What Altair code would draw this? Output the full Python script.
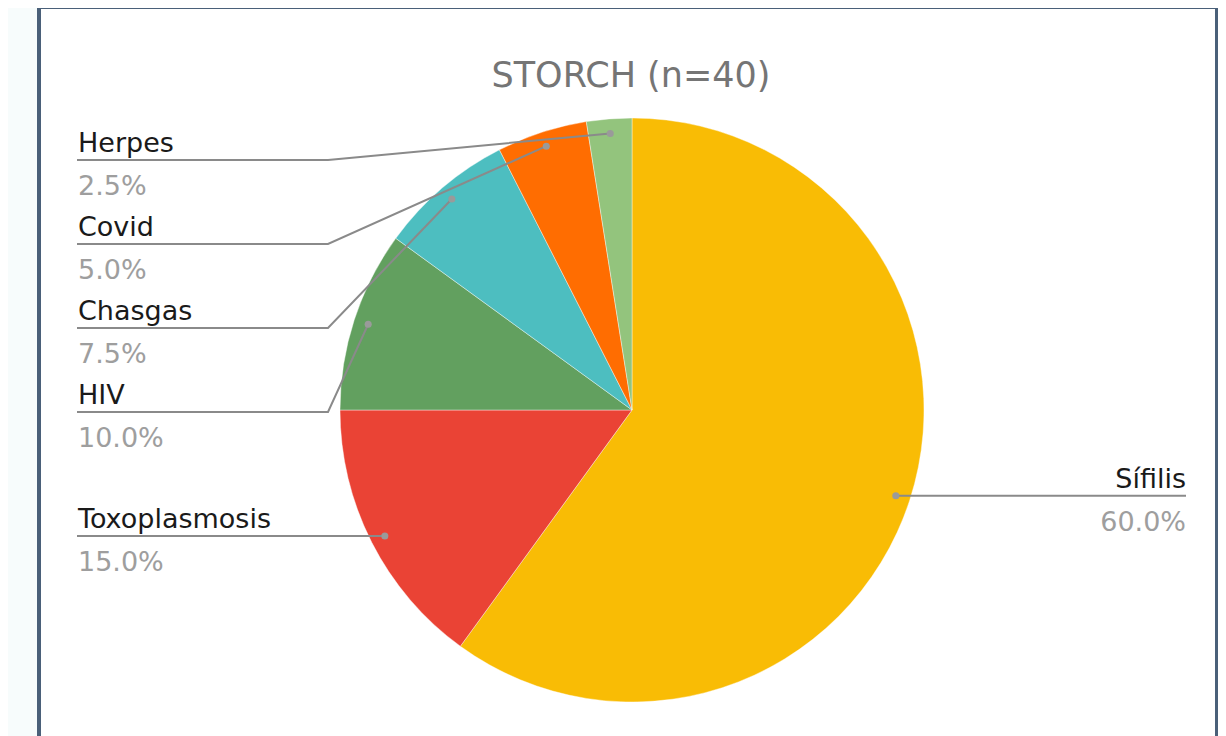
import math
import altair as alt
import pandas as pd

# ---- data ----
categories = ["Sífilis", "Toxoplasmosis", "HIV", "Chasgas", "Covid", "Herpes"]
counts = [24, 6, 4, 3, 2, 1]
colors = ["#F9BC05", "#EA4335", "#62A05F", "#4DBEC0", "#FF6D01", "#93C47D"]
title_text = "STORCH (n=40)"

# ---- layout (pixels in chart space) ----
W, H = 1210, 728
CX, CY, R = 624, 402, 292
DOT_R = 0.95 * R
LEFT_X = 69
ELBOW_X = 320
RIGHT_X = 1178
left_slots = {"Herpes": 152, "Covid": 236, "Chasgas": 320, "HIV": 404}
FONT = "DejaVu Sans"

total = sum(counts)
pie = pd.DataFrame({"cat": categories, "count": counts, "idx": list(range(len(categories)))})

line_rows, dot_rows, label_rows = [], [], []
cum = 0
for cat, c in zip(categories, counts):
    mid = (cum + c / 2) / total * 2 * math.pi
    cum += c
    dx = CX + DOT_R * math.sin(mid)
    dy = CY - DOT_R * math.cos(mid)
    pct = f"{100 * c / total:.1f}%"
    if math.sin(mid) >= 0:
        uy = dy
        pts = [(dx, dy), (RIGHT_X, uy)]
        side, tx = "right", RIGHT_X
    else:
        if cat in left_slots:
            uy = left_slots[cat]
            pts = [(dx, dy), (ELBOW_X, uy), (LEFT_X, uy)]
        else:
            uy = dy
            pts = [(dx, dy), (LEFT_X, uy)]
        side, tx = "left", LEFT_X + 1
    for k, (px, py) in enumerate(pts):
        line_rows.append({"cat": cat, "k": k, "lx": px, "ly": py})
    dot_rows.append({"cat": cat, "lx": dx, "ly": dy})
    label_rows.append({"cat": cat, "pct": pct, "side": side, "tx": tx,
                       "ny": uy - 8, "py": uy + 35})

lines = pd.DataFrame(line_rows)
dots = pd.DataFrame(dot_rows)
labels = pd.DataFrame(label_rows)

xs = alt.Scale(domain=[0, W], nice=False, zero=False)
ys = alt.Scale(domain=[0, H], nice=False, zero=False, reverse=True)

frame = alt.Chart(pd.DataFrame({"a": [0]})).mark_rect(
    fill="white", stroke="#4A6079", strokeWidth=4
).encode(x=alt.value(31), x2=alt.value(1209), y=alt.value(-1), y2=alt.value(760))

arcs = alt.Chart(pie).mark_arc(outerRadius=R, stroke="white", strokeWidth=0.4).encode(
    theta=alt.Theta("count:Q", stack=True),
    color=alt.Color("cat:N", scale=alt.Scale(domain=categories, range=colors), legend=None),
    order=alt.Order("idx:Q"),
    x=alt.value(CX),
    y=alt.value(CY),
)

leader = alt.Chart(lines).mark_line(color="#8a8a8a", strokeWidth=2).encode(
    x=alt.X("lx:Q", scale=xs, axis=None),
    y=alt.Y("ly:Q", scale=ys, axis=None),
    detail="cat:N",
    order=alt.Order("k:Q"),
)

dot_layer = alt.Chart(dots).mark_circle(size=50, color="#9a9a9a", opacity=1).encode(
    x=alt.X("lx:Q", scale=xs, axis=None),
    y=alt.Y("ly:Q", scale=ys, axis=None),
)

def text_layers(side, align):
    base = alt.Chart(labels).transform_filter(alt.datum.side == side)
    name = base.mark_text(align=align, baseline="alphabetic", font=FONT, fontSize=27,
                          color="#1a1a1a").encode(
        x=alt.X("tx:Q", scale=xs, axis=None),
        y=alt.Y("ny:Q", scale=ys, axis=None),
        text="cat:N",
    )
    perc = base.mark_text(align=align, baseline="alphabetic", font=FONT, fontSize=27,
                          color="#9e9e9e").encode(
        x=alt.X("tx:Q", scale=xs, axis=None),
        y=alt.Y("py:Q", scale=ys, axis=None),
        text="pct:N",
    )
    return [name, perc]

title = alt.Chart(pd.DataFrame({"t": [title_text]})).mark_text(
    align="center", baseline="alphabetic", font=FONT, fontSize=35, color="#757575"
).encode(x=alt.value(623), y=alt.value(79), text="t:N")

chart = alt.layer(
    frame, arcs, leader, dot_layer,
    *text_layers("left", "left"), *text_layers("right", "right"),
    title,
).properties(
    width=W, height=H,
    autosize=alt.AutoSizeParams(type="none"),
    padding=0,
    background="#f7fcfc",
).configure_view(stroke=None)

chart.save("out.html", embed_options={"renderer": "svg", "actions": False})
